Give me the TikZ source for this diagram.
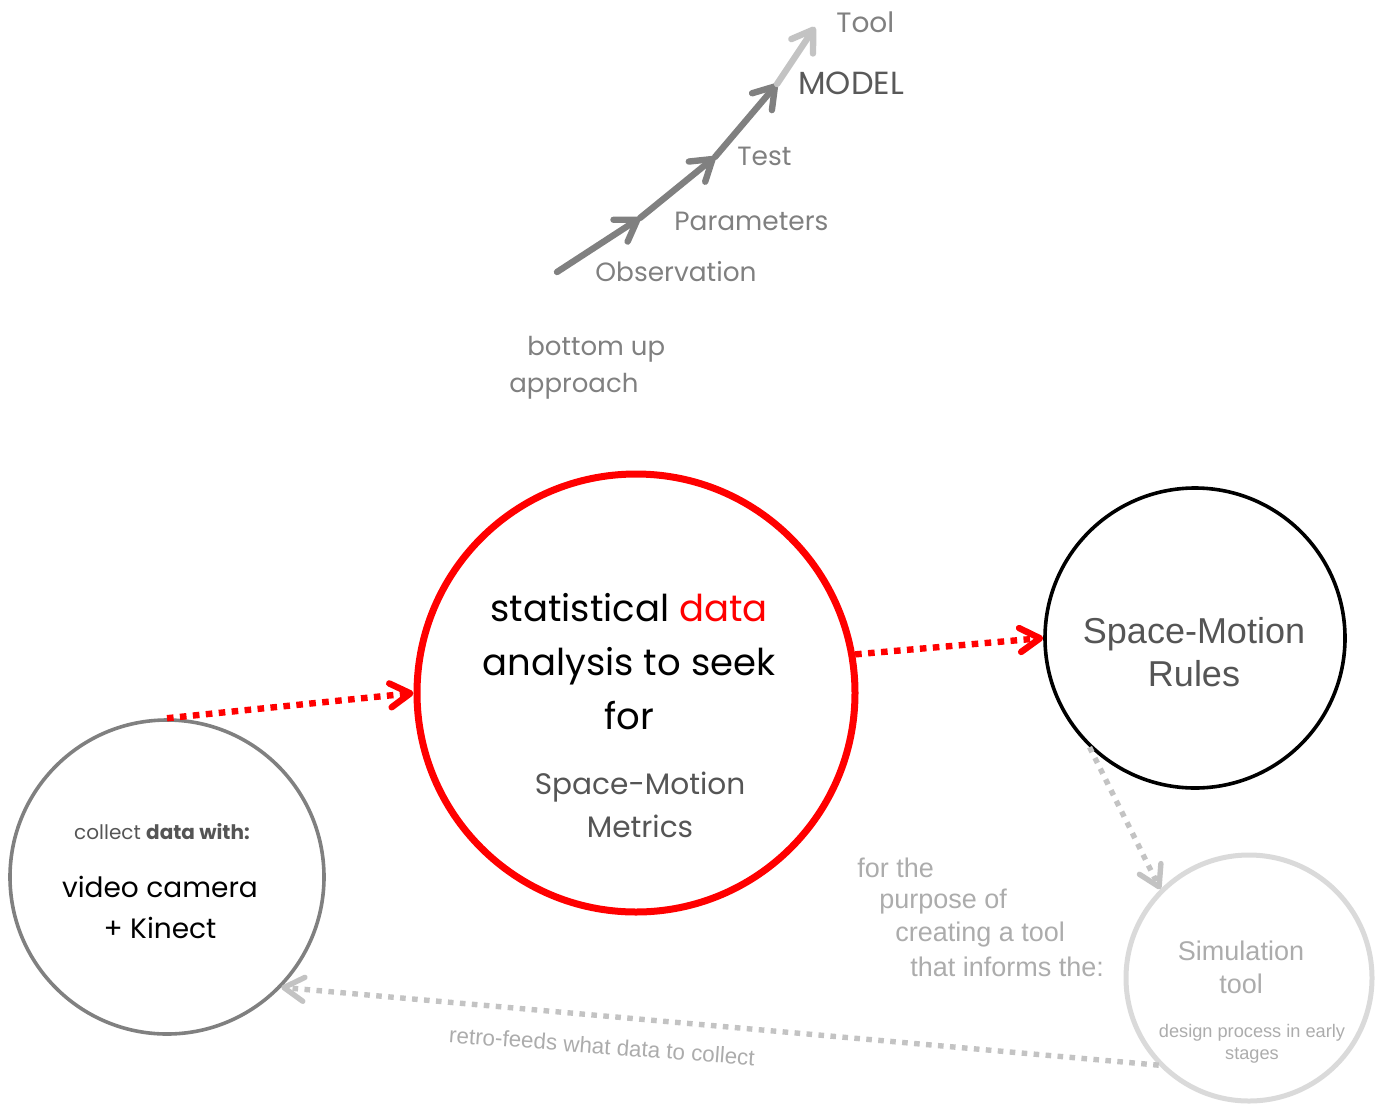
\documentclass[tikz,border=0pt]{standalone}
\usepackage{fontspec}
\setmainfont{Poppins}
\newfontfamily\helv{Liberation Sans}
\usetikzlibrary{arrows.meta}

\definecolor{stepgray}{RGB}{128,128,128}
\definecolor{toolgray}{RGB}{195,195,195}
\definecolor{textgray}{RGB}{85,85,85}
\definecolor{softgray}{RGB}{172,172,172}
\definecolor{ringgray}{RGB}{218,218,218}
\definecolor{dotgray}{RGB}{195,195,195}

\tikzset{
  ring/.style={circle, draw, inner sep=0pt},
  steparrow/.style={line width=3.2pt, line cap=round, -{Straight Barb[round,length=10pt,width=13pt]}},
  dotlink/.style={line width=3.2pt, dash pattern=on 3.3pt off 3.2pt, -{Straight Barb[round,length=10pt,width=12pt]}},
  steplabel/.style={anchor=west, inner sep=0pt, stepgray, font=\fontsize{13.2}{16}\selectfont},
}

\begin{document}
\begin{tikzpicture}[x=0.5pt, y=-0.5pt]
    \useasboundingbox (0,0) rectangle (1380,1103);

    % Steps from observation up to the tool
    \coordinate (s0) at (557,272);
    \coordinate (s1) at (640,218);
    \coordinate (s2) at (715,157);
    \coordinate (s3) at (777,84);
    \coordinate (s4) at (815,27);
    \draw[steparrow, stepgray] (s0) -- (s1);
    \draw[steparrow, stepgray] (s1) -- (s2);
    \draw[steparrow, stepgray] (s2) -- (s3);
    \draw[steparrow, toolgray] (s3) -- (s4);

    \node[steplabel] (obs) at (595,272) {Observation};
    \node[steplabel] (par) at (674,221) {Parameters};
    \node[steplabel] (test) at (737,156) {Test};
    \node[steplabel, text=black!65, font=\fontsize{16}{18}\selectfont] (model) at (798,83) {MODEL};
    \node[steplabel, font=\fontsize{14}{17}\selectfont] (tool) at (836,22) {Tool};

    \node[steplabel, font=\fontsize{13}{16}\selectfont] (bottom) at (527,349) {bottom up};
    \node[steplabel, font=\fontsize{13}{16}\selectfont] (approach) at (509,386) {approach};

    % The circles
    \node[ring, red, line width=3.5pt, minimum size=219pt] (stat) at (636,693) {};
    \node[ring, stepgray, line width=1.8pt, minimum size=157pt] (collect) at (167,877) {};
    \node[ring, black, line width=1.8pt, minimum size=150pt] (rules) at (1195,638) {};
    \node[ring, ringgray, line width=2.5pt, minimum size=123pt] (sim) at (1249,978) {};

    % Texts inside the circles
    \node[align=center, font=\fontsize{18.5}{27}\selectfont] (stattext) at (629,662)
        {statistical \textcolor{red}{data}\\analysis to seek\\for};
    \node[align=center, text=textgray, font=\fontsize{14.8}{21.5}\selectfont] (metrics) at (640,805)
        {Space-Motion\\Metrics};
    \node[text=textgray, font=\fontsize{10}{13}\selectfont] (collecttext) at (162,832)
        {collect \textbf{data with:}};
    \node[align=center, font=\fontsize{14}{20.5}\selectfont] (camera) at (160,907)
        {video camera\\+ Kinect};
    \node[align=center, text=textgray, font=\helv\fontsize{18}{21.5}\selectfont] (rulestext) at (1194,652)
        {Space-Motion\\Rules};
    \node[align=center, text=softgray, font=\helv\fontsize{13.5}{16.5}\selectfont] (simtext) at (1241,967)
        {Simulation\\tool};
    \node[align=center, text=softgray, font=\helv\fontsize{9.1}{11}\selectfont] (stages) at (1252,1044)
        {design process in early\\stages};

    % Purpose of the rules
    \foreach \x/\y/\txt [count=\i] in {857/868/for the, 879/902/purpose of, 895/935/creating a tool, 910/967/that informs the:}
        \node[anchor=west, inner sep=0pt, text=softgray, font=\helv\fontsize{13.5}{16}\selectfont] (purpose\i) at (\x,\y) {\txt};

    % Links between the circles
    \draw[dotlink, red] (collect.north) -- (stat.west);
    \draw[dotlink, red] (stat.10) -- (rules.west);
    \draw[dotlink, dotgray, line width=2.7pt, dash pattern=on 2.8pt off 3.2pt] (rules.226) -- (sim.135);
    \draw[dotlink, dotgray, line width=2.7pt, dash pattern=on 2.8pt off 3.2pt] (sim.224) -- (collect.-44);

    \node[rotate=-4.3, text=softgray, font=\helv\fontsize{11.2}{13}\selectfont] (retro) at (602,1046)
        {retro-feeds what data to collect};
\end{tikzpicture}
\end{document}
